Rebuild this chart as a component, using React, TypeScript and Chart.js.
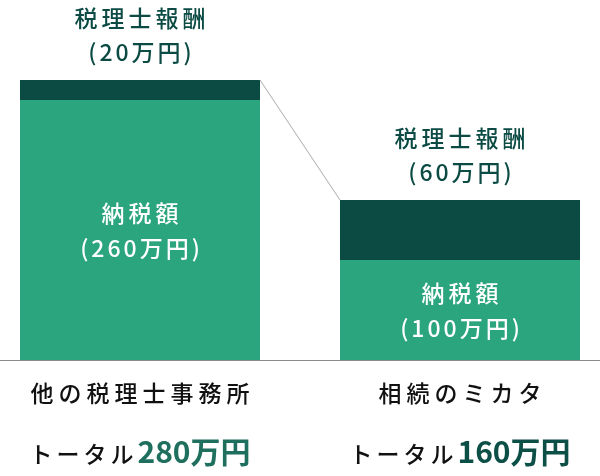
import React, { useEffect, useRef } from "react";
import { Chart, registerables } from "chart.js";

Chart.register(...registerables);

// data
const offices = ["他の税理士事務所", "相続のミカタ"];
const taxAmounts = [260, 100]; // 納税額 (万円)
const feeAmounts = [20, 60]; // 税理士報酬 (万円)
const totalColors = ["#1f6f5f", "#0c4f47"];

const FONT = '"Noto Sans CJK JP", "Noto Sans", sans-serif';
const LIGHT = "#2ba57d";
const DARK = "#0b4b44";

const drawCentered = (ctx: any, text: string, x: number, y: number, font: string, color: string, spacing: number) => {
  ctx.font = font;
  ctx.fillStyle = color;
  ctx.letterSpacing = spacing + "px";
  ctx.textAlign = "left";
  ctx.textBaseline = "middle";
  const w = ctx.measureText(text).width - spacing;
  ctx.fillText(text, x - w / 2, y);
};

const labelsPlugin = {
  id: "barLabels",
  afterDatasetsDraw(chart: any) {
    const ctx = chart.ctx;
    const area = chart.chartArea;
    const taxMeta = chart.getDatasetMeta(0);
    const feeMeta = chart.getDatasetMeta(1);
    ctx.save();

    // baseline
    ctx.strokeStyle = "#8a8a8a";
    ctx.lineWidth = 1;
    ctx.beginPath();
    ctx.moveTo(0, area.bottom + 0.5);
    ctx.lineTo(chart.width, area.bottom + 0.5);
    ctx.stroke();

    // connector between the two bar tops
    const a = feeMeta.data[0];
    const b = feeMeta.data[1];
    ctx.strokeStyle = "#aaaaaa";
    ctx.beginPath();
    ctx.moveTo(a.x + a.width / 2, a.y);
    ctx.lineTo(b.x - b.width / 2, b.y);
    ctx.stroke();

    offices.forEach((name, i) => {
      const tax = taxMeta.data[i];
      const fee = feeMeta.data[i];
      const x = tax.x;

      // fee label above the bar
      drawCentered(ctx, "税理士報酬", x, fee.y - 62, `500 23px ${FONT}`, DARK, 4);
      drawCentered(ctx, `(${feeAmounts[i]}万円)`, x, fee.y - 28, `500 23px ${FONT}`, DARK, 3);

      // tax label inside the light segment
      const mid = (tax.y + tax.base) / 2;
      drawCentered(ctx, "納税額", x, mid - 17, `500 23px ${FONT}`, "#ffffff", 4);
      drawCentered(ctx, `(${taxAmounts[i]}万円)`, x, mid + 18, `500 23px ${FONT}`, "#ffffff", 3);

      // category name
      drawCentered(ctx, name, x, area.bottom + 33, `500 23px ${FONT}`, "#111111", 5);

      // total line
      const lead = "トータル";
      const amount = `${taxAmounts[i] + feeAmounts[i]}万円`;
      ctx.textAlign = "left";
      ctx.textBaseline = "alphabetic";
      ctx.font = `500 23px ${FONT}`;
      ctx.letterSpacing = "4px";
      const w1 = ctx.measureText(lead).width;
      ctx.font = `bold 30px ${FONT}`;
      ctx.letterSpacing = "0px";
      const w2 = ctx.measureText(amount).width;
      const start = x - (w1 + w2) / 2;
      const baseY = area.bottom + 103;
      ctx.font = `500 23px ${FONT}`;
      ctx.letterSpacing = "4px";
      ctx.fillStyle = "#111111";
      ctx.fillText(lead, start, baseY);
      ctx.font = `bold 30px ${FONT}`;
      ctx.letterSpacing = "0px";
      ctx.fillStyle = totalColors[i];
      ctx.fillText(amount, start + w1, baseY);
    });

    ctx.restore();
  },
};

const App = () => {
  const canvasRef = useRef<HTMLCanvasElement>(null);

  useEffect(() => {
    const ctx = canvasRef.current?.getContext("2d");
    if (!ctx) return;
    const chart = new Chart(ctx, {
      type: "bar",
      data: {
        labels: offices,
        datasets: [
          { label: "納税額", data: taxAmounts, backgroundColor: LIGHT, categoryPercentage: 1, barPercentage: 0.75 },
          { label: "税理士報酬", data: feeAmounts, backgroundColor: DARK, categoryPercentage: 1, barPercentage: 0.75 },
        ],
      },
      options: {
        animation: false,
        responsive: true,
        maintainAspectRatio: false,
        layout: { padding: { top: 0, bottom: 116, left: 0, right: 0 } },
        plugins: { legend: { display: false }, tooltip: { enabled: false } },
        scales: {
          x: { display: false, stacked: true },
          y: { display: false, stacked: true, min: 0, max: 360 },
        },
      },
      plugins: [labelsPlugin],
    } as any);
    return () => {
      chart.destroy();
    };
  }, []);

  return (
    <div style={{ position: "fixed", left: 0, top: 0, width: 600, height: 476, overflow: "hidden", background: "#fff" }}>
      <div style={{ position: "absolute", left: -20, top: 0, width: 640, height: 476 }}>
        <canvas ref={canvasRef} />
      </div>
    </div>
  );
};

export default App;
